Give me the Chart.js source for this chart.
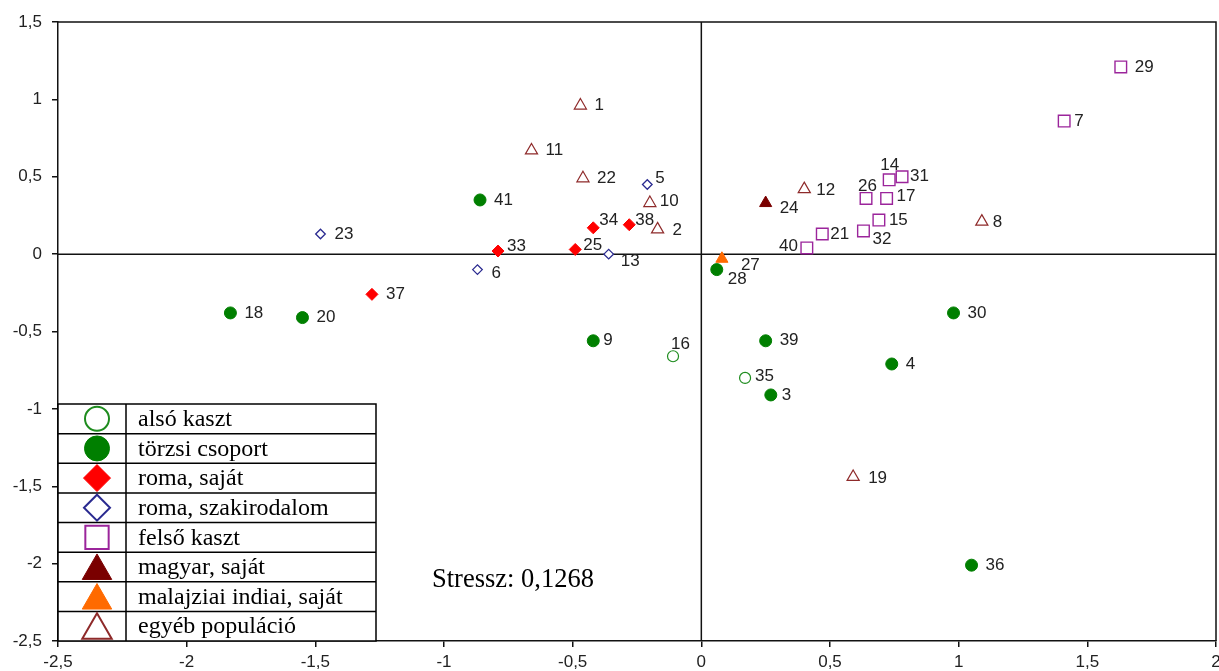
<!DOCTYPE html>
<html>
<head>
<meta charset="utf-8">
<script src="https://cdn.jsdelivr.net/npm/chart.js@4.4.0/dist/chart.umd.min.js"></script>
<style>
html, body { margin: 0; padding: 0; background: #fff; overflow: hidden; }
canvas { display: block; }
</style>
</head>
<body>
<canvas id="myChart" width="1219" height="671"></canvas>
<script>
// each point: [id, dimension 1, dimension 2]
var alsoKaszt = [[16, -0.11, -0.66], [35, 0.17, -0.80]];
var torzsiCsoport = [[41, -0.86, 0.35], [18, -1.83, -0.38], [20, -1.55, -0.41], [9, -0.42, -0.56],
	[28, 0.06, -0.10], [39, 0.25, -0.56], [3, 0.27, -0.91], [4, 0.74, -0.71], [30, 0.98, -0.38], [36, 1.05, -2.01]];
var romaSajat = [[34, -0.42, 0.17], [38, -0.28, 0.19], [33, -0.79, 0.02], [25, -0.49, 0.03], [37, -1.28, -0.26]];
var romaSzakirodalom = [[5, -0.21, 0.45], [23, -1.48, 0.13], [6, -0.87, -0.10], [13, -0.36, 0.00]];
var felsoKaszt = [[29, 1.63, 1.21], [7, 1.41, 0.86], [14, 0.73, 0.48], [31, 0.78, 0.50], [26, 0.64, 0.36],
	[17, 0.72, 0.36], [15, 0.69, 0.22], [21, 0.47, 0.13], [32, 0.63, 0.15], [40, 0.41, 0.04]];
var magyarSajat = [[24, 0.25, 0.33]];
var malajziaiIndiai = [[27, 0.08, -0.03]];
var egyebPopulacio = [[1, -0.47, 0.96], [11, -0.66, 0.67], [22, -0.46, 0.49], [10, -0.20, 0.33],
	[2, -0.17, 0.16], [12, 0.40, 0.42], [8, 1.09, 0.21], [19, 0.59, -1.44]];

var xTicks = [-2.5, -2, -1.5, -1, -0.5, 0, 0.5, 1, 1.5, 2];
var yTicks = [-2.5, -2, -1.5, -1, -0.5, 0, 0.5, 1, 1.5];
var stressText = "Stressz: 0,1268";

// label offsets (dx, dy, align) where the label is not simply on the right
var labelOffset = {
	5: [8, -6], 10: [10, -2], 34: [6, -8], 38: [6, -4], 33: [9, -5], 25: [8, -4],
	13: [12, 7], 6: [14, 4], 27: [19, 7], 28: [11, 10], 40: [-9, -2, "right"], 24: [14, 5],
	9: [10, 0], 16: [-2, -12], 7: [10, 0], 14: [-9, -15], 31: [8, 0], 12: [12, 1],
	26: [-8, -12], 17: [10, -2], 15: [10, 0], 21: [8, 0], 32: [9, 8], 8: [11, 1],
	35: [10, -2], 3: [11, 0], 2: [15, 1], 19: [15, 1]
};

function toPoints(list) {
	var out = [];
	for (var i = 0; i < list.length; i++) {
		out.push({ x: list[i][1], y: list[i][2] });
	}
	return out;
}
function toIds(list) {
	return list.map(function(p) { return p[0]; });
}

var groups = [
	{ label: "alsó kaszt", list: alsoKaszt, style: "circle", r: 5.5, fill: "#ffffff", line: "#1e8c1e", lw: 1.2, lr: 12 },
	{ label: "törzsi csoport", list: torzsiCsoport, style: "circle", r: 6, fill: "#007f00", line: "#007f00", lw: 1, lr: 12.5 },
	{ label: "roma, saját", list: romaSajat, style: "rectRot", r: 6, fill: "#ff0000", line: "#ff0000", lw: 1, lr: 13.5 },
	{ label: "roma, szakirodalom", list: romaSzakirodalom, style: "rectRot", r: 4.8, fill: "#ffffff", line: "#2a2a90", lw: 1.3, lr: 13 },
	{ label: "felső kaszt", list: felsoKaszt, style: "rect", r: 8.2, fill: "#ffffff", line: "#9b259b", lw: 1.4, lr: 16.5 },
	{ label: "magyar, saját", list: magyarSajat, style: "triangle", r: 7, fill: "#7a0000", line: "#7a0000", lw: 1, lr: 17 },
	{ label: "malajziai indiai, saját", list: malajziaiIndiai, style: "triangle", r: 7, fill: "#ff6a00", line: "#ff6a00", lw: 1, lr: 17 },
	{ label: "egyéb populáció", list: egyebPopulacio, style: "triangle", r: 7, fill: "#ffffff", line: "#8e2a2a", lw: 1.2, lr: 17 }
];

var datasets = groups.map(function(g) {
	return {
		label: g.label,
		data: toPoints(g.list),
		ids: toIds(g.list),
		pointStyle: g.style,
		pointRadius: g.r,
		pointHoverRadius: g.r,
		pointBackgroundColor: g.fill,
		pointBorderColor: g.line,
		pointBorderWidth: g.lw,
		showLine: false
	};
});

function commaNum(v) {
	return String(v).replace(".", ",");
}

function drawShape(ctx, style, r, x, y) {
	if (Chart.helpers && Chart.helpers.drawPoint) {
		Chart.helpers.drawPoint(ctx, { pointStyle: style, radius: r, rotation: 0, borderWidth: ctx.lineWidth }, x, y);
		return;
	}
	ctx.beginPath();
	if (style == "circle") {
		ctx.arc(x, y, r, 0, Math.PI * 2);
	} else if (style == "rectRot") {
		ctx.moveTo(x, y - r); ctx.lineTo(x + r, y); ctx.lineTo(x, y + r); ctx.lineTo(x - r, y);
	} else if (style == "rect") {
		var s = r * Math.SQRT1_2;
		ctx.rect(x - s, y - s, 2 * s, 2 * s);
	} else {
		ctx.moveTo(x, y - r); ctx.lineTo(x + r * 0.866, y + r / 2); ctx.lineTo(x - r * 0.866, y + r / 2);
	}
	ctx.closePath();
	ctx.fill();
	ctx.stroke();
}

var extras = {
	id: "extras",
	beforeDatasetsDraw: function(chart) {
		var ctx = chart.ctx, a = chart.chartArea;
		var x0 = chart.scales.x.getPixelForValue(0);
		var y0 = chart.scales.y.getPixelForValue(0);
		ctx.save();
		ctx.strokeStyle = "#111";
		ctx.lineWidth = 1.5;
		ctx.beginPath();
		ctx.moveTo(a.left, y0); ctx.lineTo(a.right, y0);
		ctx.moveTo(x0, a.top); ctx.lineTo(x0, a.bottom);
		ctx.moveTo(a.left, a.top); ctx.lineTo(a.right, a.top); ctx.lineTo(a.right, a.bottom);
		ctx.stroke();
		ctx.restore();
	},
	afterDatasetsDraw: function(chart) {
		var ctx = chart.ctx;
		ctx.save();
		ctx.font = "17px 'Liberation Sans', Arial, sans-serif";
		ctx.fillStyle = "#222";
		ctx.textBaseline = "middle";
		chart.data.datasets.forEach(function(ds, i) {
			var meta = chart.getDatasetMeta(i);
			meta.data.forEach(function(pt, j) {
				var id = ds.ids[j];
				var off = labelOffset[id] || [14, 0];
				ctx.textAlign = off[2] || "left";
				ctx.fillText(String(id), pt.x + off[0], pt.y + off[1]);
			});
		});
		ctx.restore();
	},
	afterDraw: function(chart) {
		var ctx = chart.ctx, a = chart.chartArea;
		// legend table
		var left = a.left, right = 376, top = 404, bottom = a.bottom, divX = 126;
		var rowH = (bottom - top) / groups.length;
		ctx.save();
		ctx.fillStyle = "#fff";
		ctx.fillRect(left, top, right - left, bottom - top);
		ctx.strokeStyle = "#000";
		ctx.lineWidth = 1.5;
		ctx.beginPath();
		ctx.rect(left, top, right - left, bottom - top);
		for (var k = 1; k < groups.length; k++) {
			ctx.moveTo(left, top + rowH * k);
			ctx.lineTo(right, top + rowH * k);
		}
		ctx.moveTo(divX, top); ctx.lineTo(divX, bottom);
		ctx.stroke();
		groups.forEach(function(g, k) {
			var cy = top + rowH * (k + 0.5);
			var sy = g.style == "triangle" ? cy + 4 : cy;
			ctx.fillStyle = g.fill;
			ctx.strokeStyle = g.line;
			ctx.lineWidth = g.fill == "#ffffff" ? 2 : 1;
			drawShape(ctx, g.style, g.lr, 97, sy);
			ctx.fillStyle = "#000";
			ctx.font = "24px 'Liberation Serif', 'Times New Roman', serif";
			ctx.textAlign = "left";
			ctx.textBaseline = "middle";
			ctx.fillText(g.label, 138, cy + 1);
		});
		ctx.font = "26.5px 'Liberation Serif', 'Times New Roman', serif";
		ctx.fillStyle = "#000";
		ctx.textAlign = "left";
		ctx.textBaseline = "middle";
		ctx.fillText(stressText, 432, 580);
		ctx.restore();
	}
};

var ctx = document.getElementById("myChart");
var myChart = new Chart(ctx, {
	type: "scatter",
	data: { datasets: datasets },
	options: {
		responsive: false,
		animation: false,
		devicePixelRatio: 1,
		layout: { autoPadding: false, padding: { top: 22, right: 3, left: 0, bottom: 0 } },
		plugins: {
			legend: { display: false },
			tooltip: { enabled: false }
		},
		scales: {
			x: {
				type: "linear",
				min: -2.5,
				max: 2,
				afterFit: function(scale) {
					scale.height = 30;
					scale.paddingLeft = 0;
					scale.paddingRight = 0;
				},
				afterBuildTicks: function(scale) {
					scale.ticks = xTicks.map(function(v) { return { value: v }; });
				},
				ticks: {
					autoSkip: false,
					maxRotation: 0,
					padding: 5,
					color: "#222",
					font: { family: "'Liberation Sans', Arial, sans-serif", size: 17 },
					callback: function(v) { return commaNum(v); }
				},
				grid: { drawOnChartArea: false, drawTicks: true, tickLength: 6, color: "#111", lineWidth: 1.5 },
				border: { display: true, color: "#111", width: 1.5 }
			},
			y: {
				type: "linear",
				min: -2.5,
				max: 1.5,
				afterFit: function(scale) {
					scale.width = 58;
					scale.paddingTop = 0;
					scale.paddingBottom = 0;
				},
				afterBuildTicks: function(scale) {
					scale.ticks = yTicks.map(function(v) { return { value: v }; });
				},
				ticks: {
					autoSkip: false,
					padding: 10,
					color: "#222",
					font: { family: "'Liberation Sans', Arial, sans-serif", size: 17 },
					callback: function(v) { return commaNum(v); }
				},
				grid: { drawOnChartArea: false, drawTicks: true, tickLength: 6, color: "#111", lineWidth: 1.5 },
				border: { display: true, color: "#111", width: 1.5 }
			}
		}
	},
	plugins: [extras]
});
</script>
</body>
</html>
